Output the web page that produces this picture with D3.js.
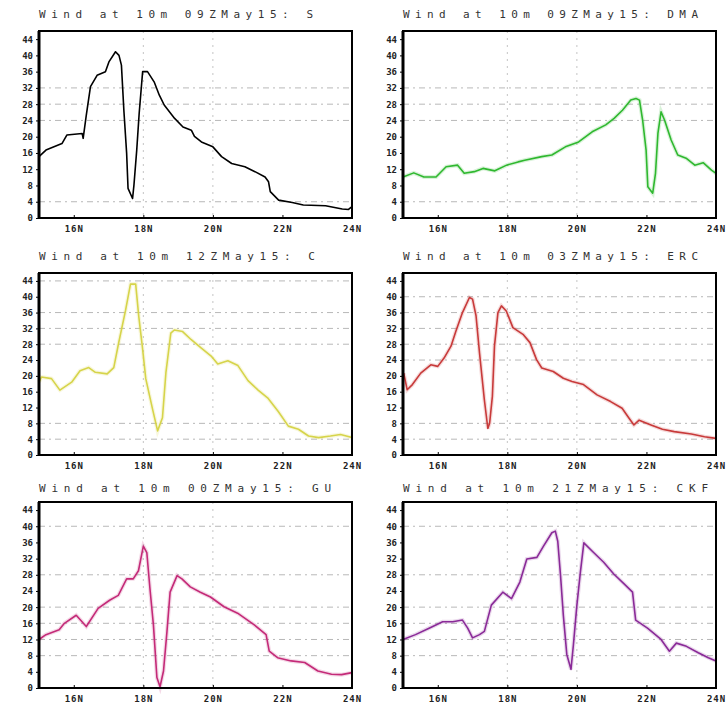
<!DOCTYPE html>
<html><head><meta charset="utf-8">
<script src="https://cdn.jsdelivr.net/npm/d3@7"></script>
<style>body{margin:0;background:#fff}svg{display:block}</style>
</head><body>
<script>
// ---- data ----
const titles = [
  "Wind at 10m 09ZMay15: S",
  "Wind at 10m 09ZMay15: DMA",
  "Wind at 10m 12ZMay15: C",
  "Wind at 10m 03ZMay15: ERC",
  "Wind at 10m 00ZMay15: GU",
  "Wind at 10m 21ZMay15: CKF"
];
const yTicks = [0,4,8,12,16,20,24,28,32,36,40,44];
const xTicks = [16,18,20,22,24];
const xTickLabels = ["16N","18N","20N","22N","24N"];
const xGrid = [18,20];
const gridValues = [
  [32,28,24,4],[32,28,24,4],[44,36,32,28,8,4],[40,36,32,28,24,8,4],[40,28,20,16,12,8],[40,28,20,16,12,8]
];
const seriesColors = ["#000000","#2fb82f","#d6d44a","#c83a3a","#c42a78","#8a2a98"];

const lat1 = [15.0,15.2,15.66,15.8,16.24,16.27,16.36,16.48,16.67,16.91,17.01,17.2,17.3,17.37,17.44,17.52,17.56,17.69,17.73,17.81,17.88,17.98,18.12,18.31,18.46,18.6,18.9,19.14,19.38,19.47,19.67,20.0,20.25,20.54,20.92,21.21,21.5,21.6,21.65,21.89,22.28,22.6,23.24,23.72,23.9,24.0];
const wind1 = [15.1,16.7,18.3,20.4,20.8,19.6,25.3,32.3,35.1,36.0,38.4,40.9,40.0,37.6,26.5,15.9,7.3,4.8,8.1,16.7,25.7,36.0,36.0,33.5,30.2,27.8,24.5,22.4,21.6,20.1,18.7,17.5,15.1,13.4,12.6,11.4,10.1,8.9,6.5,4.4,3.8,3.2,3.0,2.2,2.1,2.8];

const lat2 = [15.0,15.31,15.6,15.95,16.24,16.57,16.76,17.05,17.3,17.64,17.98,18.31,18.5,18.99,19.28,19.67,20.05,20.44,20.83,21.07,21.31,21.55,21.7,21.8,21.89,21.99,22.04,22.18,22.26,22.33,22.42,22.52,22.71,22.9,23.14,23.39,23.63,23.87,24.0];
const wind2 = [10.1,11.1,10.1,10.1,12.6,13.0,11.0,11.4,12.2,11.6,13.0,13.8,14.2,15.1,15.5,17.5,18.7,21.2,22.9,24.5,26.5,29.0,29.4,29.0,24.1,16.7,7.7,6.1,11.0,20.8,26.1,24.1,19.2,15.5,14.7,13.0,13.6,11.8,11.0];

const lat3 = [15.0,15.07,15.36,15.6,15.94,16.18,16.43,16.62,16.96,17.15,17.29,17.49,17.63,17.78,17.87,17.97,18.07,18.26,18.41,18.55,18.65,18.79,18.89,19.13,19.37,19.66,19.95,20.14,20.43,20.72,21.01,21.3,21.59,21.88,22.17,22.46,22.75,23.04,23.38,23.67,24.0];
const wind3 = [18.4,19.7,19.3,16.4,18.4,21.3,22.1,20.9,20.5,22.1,28.3,36.6,43.2,43.2,34.9,27.5,19.3,11.8,6.1,9.4,20.9,30.8,31.6,31.2,29.2,27.1,25.0,23.0,23.8,22.6,18.8,16.4,14.3,11.0,7.3,6.5,4.8,4.4,4.8,5.2,4.4];

const lat4 = [15.02,15.12,15.27,15.51,15.8,16.0,16.18,16.38,16.52,16.71,16.91,17.0,17.1,17.2,17.34,17.44,17.49,17.57,17.63,17.73,17.83,17.97,18.16,18.45,18.65,18.84,18.99,19.32,19.61,19.86,20.19,20.58,20.97,21.3,21.5,21.64,21.79,22.13,22.46,22.8,23.29,23.67,24.0];
const wind4 = [20.7,16.5,17.8,20.7,22.8,22.4,24.5,27.5,31.3,36.0,39.8,39.4,35.2,25.8,13.9,6.7,8.0,14.8,27.5,36.0,37.7,36.4,32.2,30.5,28.4,24.1,22.0,21.1,19.4,18.6,17.8,15.2,13.5,11.8,9.3,7.6,8.8,7.6,6.5,5.9,5.3,4.6,4.2];

const lat5 = [15.0,15.2,15.58,15.73,16.07,16.36,16.7,17.03,17.28,17.52,17.71,17.86,18.0,18.1,18.19,18.29,18.39,18.48,18.58,18.68,18.77,18.97,19.11,19.35,19.64,19.93,20.32,20.71,21.19,21.53,21.62,21.86,22.25,22.64,23.02,23.41,23.7,24.0];
const wind5 = [12.0,13.2,14.4,16.0,18.0,15.2,19.7,21.7,22.9,27.0,27.0,29.0,35.1,33.5,24.6,15.6,2.6,0.3,4.2,14.0,23.7,27.8,27.0,25.0,23.7,22.5,20.1,18.5,15.6,13.2,9.1,7.5,6.7,6.3,4.2,3.4,3.3,3.8];

const lat6 = [15.0,15.36,15.75,16.14,16.43,16.71,16.86,17.0,17.2,17.34,17.54,17.87,18.12,18.36,18.56,18.85,19.04,19.28,19.38,19.45,19.53,19.61,19.71,19.83,19.9,20.0,20.1,20.2,20.48,20.77,21.06,21.35,21.6,21.69,22.03,22.42,22.66,22.86,23.15,23.49,23.78,24.0];
const wind6 = [12.0,13.2,14.8,16.4,16.4,16.8,14.8,12.4,13.2,14.0,20.5,23.7,22.1,26.2,31.9,32.3,35.1,38.4,38.8,36.3,27.8,18.0,8.3,4.6,10.7,20.5,28.6,35.9,33.5,31.1,28.2,25.8,23.7,16.8,14.8,12.0,9.1,11.1,10.3,8.7,7.5,6.7];

const lats = [lat1,lat2,lat3,lat4,lat5,lat6];
const winds = [wind1,wind2,wind3,wind4,wind5,wind6];

// ---- layout ----
const W = 726, H = 704;
const colLeft = [39, 403];
const plotW = 313;
const rowTop = [31, 273, 502];
const rowH = [187, 182, 186];
const titleY = [18, 260, 492];

const svg = d3.select("body").append("svg").attr("width", W).attr("height", H);
svg.append("rect").attr("width", W).attr("height", H).attr("fill", "#fff");

const titleWidths = [274, 295, 276, 295, 292, 305];

for (let i = 0; i < 6; i++) {
  const c = i % 2, r = Math.floor(i / 2);
  const L = colLeft[c], T = rowTop[r], h = rowH[r];
  const g = svg.append("g").attr("transform", `translate(${L},${T})`);
  const x = d3.scaleLinear().domain([15, 24]).range([0, plotW]);
  const y = d3.scaleLinear().domain([0, 46]).range([h, 0]);

  // grid
  g.selectAll(".gy").data(gridValues[i]).enter().append("line")
    .attr("x1", 0).attr("x2", plotW)
    .attr("y1", d => y(d)).attr("y2", d => y(d))
    .attr("stroke", "#b8b8b8").attr("stroke-width", 1).attr("stroke-dasharray", "6,4,2,4");
  g.selectAll(".gx").data(xGrid).enter().append("line")
    .attr("y1", 0).attr("y2", h)
    .attr("x1", d => x(d)).attr("x2", d => x(d))
    .attr("stroke", "#c4c4c4").attr("stroke-width", 1).attr("stroke-dasharray", "2,5");

  // axes
  const ya = d3.axisLeft(y).tickValues(yTicks).tickSize(3).tickFormat(d3.format("d"));
  const yg = g.append("g").call(ya);
  yg.select(".domain").remove();
  yg.selectAll("text").attr("font-family", "DejaVu Sans Mono, monospace").attr("font-size", 9)
    .attr("font-weight", "bold").attr("fill", "#222").attr("x", -6);
  yg.selectAll("line").attr("stroke", "#000");

  const xa = d3.axisBottom(x).tickValues(xTicks).tickSize(3).tickFormat((d, k) => xTickLabels[k]);
  const xg = g.append("g").attr("transform", `translate(0,${h})`).call(xa);
  xg.select(".domain").remove();
  xg.selectAll("text").attr("font-family", "DejaVu Sans Mono, monospace").attr("font-size", 9)
    .attr("font-weight", "bold").attr("fill", "#222").attr("dy", "0.9em").attr("letter-spacing", 1);
  xg.selectAll("line").attr("stroke", "#000").attr("transform", "translate(0,-3)");

  // line
  const pts = lats[i].map((v, k) => [v, winds[i][k]]);
  const line = d3.line().x(d => x(d[0])).y(d => y(d[1]));
  if (i > 0) {
    g.append("path").datum(pts).attr("d", line).attr("fill", "none")
      .attr("stroke", seriesColors[i]).attr("stroke-width", 4).attr("stroke-opacity", 0.18);
  }
  g.append("path").datum(pts).attr("d", line).attr("fill", "none")
    .attr("stroke", seriesColors[i]).attr("stroke-width", 1.6).attr("stroke-linejoin", "round");

  // frame
  g.append("rect").attr("x", 0).attr("y", 0).attr("width", plotW).attr("height", h)
    .attr("fill", "none").attr("stroke", "#000").attr("stroke-width", 2);
  g.append("line").attr("x1", 0).attr("x2", 0).attr("y1", 0).attr("y2", h)
    .attr("stroke", "#000").attr("stroke-width", 3);

  // title
  svg.append("text").attr("x", L).attr("y", titleY[r]).text(titles[i])
    .attr("font-family", "DejaVu Sans Mono, monospace").attr("font-size", 11)
    .attr("fill", "#333").attr("textLength", titleWidths[i]).attr("lengthAdjust", "spacing");
}
</script>
</body></html>
